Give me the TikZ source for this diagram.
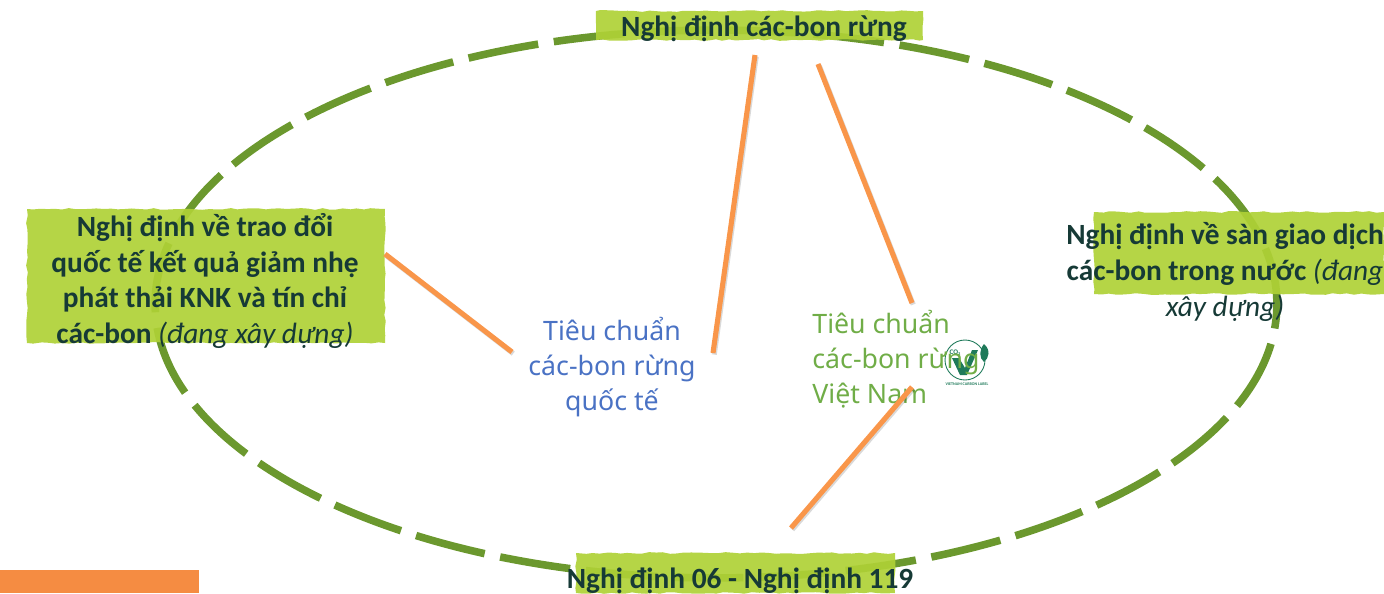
\documentclass[tikz,border=0pt]{standalone}
\usepackage{fontspec}
\setmainfont{Carlito}
\newfontfamily\stdfont{Noto Sans}
\usetikzlibrary{decorations.pathmorphing,shapes.geometric}
\definecolor{ringgreen}{HTML}{6B982E}
\definecolor{papergreen}{HTML}{AFD136}
\definecolor{inkdark}{HTML}{163A36}
\definecolor{linkorange}{HTML}{F9964A}
\definecolor{boxorange}{HTML}{F58C42}
\definecolor{stdblue}{HTML}{4A72C4}
\definecolor{stdgreen}{HTML}{70AD47}
\definecolor{logogreen}{HTML}{1F7A5A}
\tikzset{
  paper/.style={fill=papergreen, fill opacity=0.92, inner sep=0pt, decorate, decoration={random steps, segment length=4pt, amplitude=0.5pt}},
  decree/.style={text=inkdark, align=center, font=\fontsize{16.7}{20.3}\selectfont\bfseries, inner sep=0pt},
  standard/.style={align=center, font=\fontsize{15.2}{19.9}\selectfont\stdfont, inner sep=0pt},
  link/.style={line width=2.9pt, draw=linkorange, preaction={draw=black, line width=2.9pt, opacity=0.15, transform canvas={xshift=0.7pt, yshift=-0.9pt}}}
}
\begin{document}
\begin{tikzpicture}[x=0.02cm, y=-0.02cm]
\useasboundingbox (0,0) rectangle (1384,593);
\node[draw=ringgreen, line width=4.3pt, dash pattern=on 40.4pt off 9pt, dash phase=8pt, shape=ellipse, minimum width=22.44cm, minimum height=10.96cm, inner sep=0pt] (ring) at (716,304) {};
\fill[paper] (596,11) rectangle (923,40);
\fill[paper] (27,209) rectangle (385,343);
\fill[paper] (1094,212) rectangle (1384,294);
\fill[paper] (576,553) rectangle (895,593);
\fill[boxorange] (0,570) rectangle (199,593);
\node[decree] (top) at (764,29) {Nghị định các-bon rừng};
\node[decree] (left) at (205,281) {Nghị định về trao đổi\\quốc tế kết quả giảm nhẹ\\phát thải KNK và tín chỉ\\các-bon \textmd{\textit{(đang xây dựng)}}};
\node[decree] (right) at (1225,272) {Nghị định về sàn giao dịch\\các-bon trong nước \textmd{\textit{(đang}}\\\textmd{\textit{xây dựng)}}};
\node[decree] (bottom) at (740,581) {Nghị định 06 - Nghị định 119};
\node[shape=circle, draw=logogreen, line width=0.5pt, minimum size=0.8cm, inner sep=0pt] (logo) at (965,360) {};
\fill[logogreen] (952,358) -- (959,358) -- (965,368) -- (972,350) -- (978,350) -- (967,375) -- (960,375) -- cycle;
\fill[logogreen] (984,344) .. controls (979,350) and (979,358) .. (984,362) .. controls (989,358) and (991,350) .. (984,344) -- cycle;
\node[text=logogreen, font=\fontsize{4}{4}\selectfont\bfseries, inner sep=0pt] (co2) at (955,353) {CO₂};
\node[text=logogreen, font=\fontsize{2.3}{3}\selectfont\bfseries, inner sep=0pt] (logotext) at (967,384) {VIETNAM CARBON LABEL};
\node[standard, text=stdblue] (intl) at (612,367) {Tiêu chuẩn\\các-bon rừng\\quốc tế};
\node[standard, text=stdgreen, align=left] (viet) at (896,359) {Tiêu chuẩn\\các-bon rừng\\Việt Nam};
\coordinate (a1) at (755,55);
\coordinate (a2) at (713,353);
\coordinate (b1) at (818,64);
\coordinate (b2) at (912,303);
\coordinate (c1) at (912,387);
\coordinate (c2) at (791,528);
\coordinate (d1) at (385,254);
\coordinate (d2) at (512,352);
\path (a1) edge[-,link] (a2);
\path (b1) edge[-,link] (b2);
\path (c1) edge[-,link] (c2);
\path (d1) edge[-,link] (d2);
\end{tikzpicture}
\end{document}
